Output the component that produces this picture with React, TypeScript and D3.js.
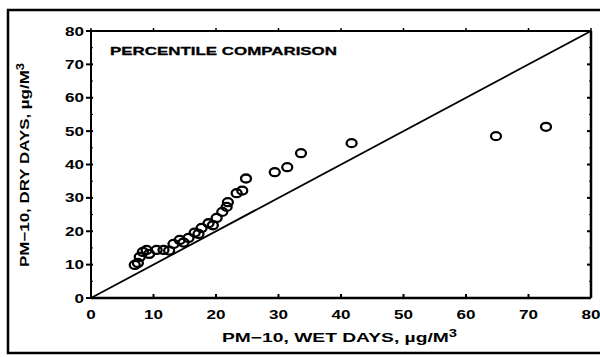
import React from "react";
import * as d3 from "d3";

// percentile pairs: wet-day value vs dry-day value
const wetDays = [7, 7.5, 7.8, 8.3, 8.9, 9.3, 10.5, 11.6, 12.5, 13.2, 14.2, 14.8, 15.6, 16.6, 17.2, 17.7, 18.8, 19.5, 20.1, 21, 21.7, 21.9, 23.3, 24.2, 24.8, 29.4, 31.4, 33.6, 41.7, 64.8, 72.8];
const dryDays = [9.9, 10.5, 12.3, 13.8, 14.4, 13.2, 14.4, 14.4, 14.2, 16.2, 17.4, 16.6, 18, 19.6, 19.2, 21, 22.4, 21.8, 24, 25.8, 27.3, 28.7, 31.4, 32.2, 35.8, 37.7, 39.2, 43.4, 46.4, 48.5, 51.3];
const xTicks = [0, 10, 20, 30, 40, 50, 60, 70, 80];
const yTicks = [0, 10, 20, 30, 40, 50, 60, 70, 80];

const W = 600;
const H = 357;
const left = 91;
const right = 591;
const top = 31;
const bottom = 298;

const font = "'Liberation Sans', Arial, sans-serif";

export default function App() {
  const x = d3.scaleLinear().domain([0, 80]).range([left, right]);
  const y = d3.scaleLinear().domain([0, 80]).range([bottom, top]);
  const minor = d3.range(0, 81, 5);
  const pts = wetDays.map((w, i) => ({ w, d: dryDays[i] }));
  const diag = d3.line<number>().x((v) => x(v)).y((v) => y(v))([0, 80]);
  const tickLen = (t: number) => String(t).length * 9.5;

  return (
    <svg
      width={W}
      height={H}
      style={{ position: "absolute", left: 0, top: 0, background: "#fff" }}
    >
      {/* outer frame */}
      <rect x={8} y={10} width={600} height={343} fill="none" stroke="#000" strokeWidth={2.5} />

      {/* axes box */}
      <line x1={left} x2={right} y1={bottom} y2={bottom} stroke="#000" strokeWidth={2.5} />
      <line x1={left} x2={right} y1={top} y2={top} stroke="#000" strokeWidth={2} />
      <line x1={left} x2={left} y1={top} y2={bottom} stroke="#000" strokeWidth={2} />
      <line x1={right} x2={right} y1={top} y2={bottom} stroke="#000" strokeWidth={2.5} />

      {/* ticks */}
      {yTicks.map((t) => (
        <g key={"y" + t}>
          <line x1={left - 5} x2={left + 2} y1={y(t)} y2={y(t)} stroke="#000" strokeWidth={2} />
          <line x1={right - 4} x2={right} y1={y(t)} y2={y(t)} stroke="#000" strokeWidth={2} />
          <text
            x={left - 7}
            y={y(t) + 4.5}
            textAnchor="end"
            fontFamily={font}
            fontWeight="bold"
            fontSize={12.5}
            textLength={tickLen(t)}
            lengthAdjust="spacingAndGlyphs"
          >
            {t}
          </text>
        </g>
      ))}
      {minor.map((t) => (
        <g key={"m" + t}>
          <line x1={left} x2={left + 2} y1={y(t)} y2={y(t)} stroke="#000" strokeWidth={1} />
          <line x1={right - 2} x2={right} y1={y(t)} y2={y(t)} stroke="#000" strokeWidth={1} />
        </g>
      ))}
      {xTicks.map((t) => (
        <g key={"x" + t}>
          <line x1={x(t)} x2={x(t)} y1={bottom} y2={bottom - 4} stroke="#000" strokeWidth={2} />
          <line x1={x(t)} x2={x(t)} y1={top} y2={top - 3} stroke="#000" strokeWidth={1.5} />
          <text
            x={x(t)}
            y={bottom + 21}
            textAnchor="middle"
            fontFamily={font}
            fontWeight="bold"
            fontSize={12.5}
            textLength={tickLen(t)}
            lengthAdjust="spacingAndGlyphs"
          >
            {t}
          </text>
        </g>
      ))}

      {/* 1:1 line */}
      <path d={diag ?? ""} stroke="#000" strokeWidth={1.8} fill="none" />

      {/* points */}
      {pts.map((p, i) => (
        <ellipse
          key={i}
          cx={x(p.w)}
          cy={y(p.d)}
          rx={5}
          ry={4}
          fill="none"
          stroke="#000"
          strokeWidth={2.3}
        />
      ))}

      <text
        x={110}
        y={55}
        fontFamily={font}
        fontWeight="bold"
        fontSize={11.5}
        textLength={227}
        lengthAdjust="spacingAndGlyphs"
        stroke="#000"
        strokeWidth={0.3}
      >
        PERCENTILE COMPARISON
      </text>

      <text
        x={222}
        y={342}
        fontFamily={font}
        fontWeight="bold"
        fontSize={13}
        textLength={235}
        lengthAdjust="spacingAndGlyphs"
      >
        PM−10, WET DAYS, µg/M<tspan dy={-5} fontSize={10}>3</tspan>
      </text>

      <text
        transform="translate(29,267) rotate(-90)"
        fontFamily={font}
        fontWeight="bold"
        fontSize={13}
        textLength={204}
        lengthAdjust="spacingAndGlyphs"
      >
        PM−10, DRY DAYS, µg/M<tspan dy={-5} fontSize={10}>3</tspan>
      </text>
    </svg>
  );
}
